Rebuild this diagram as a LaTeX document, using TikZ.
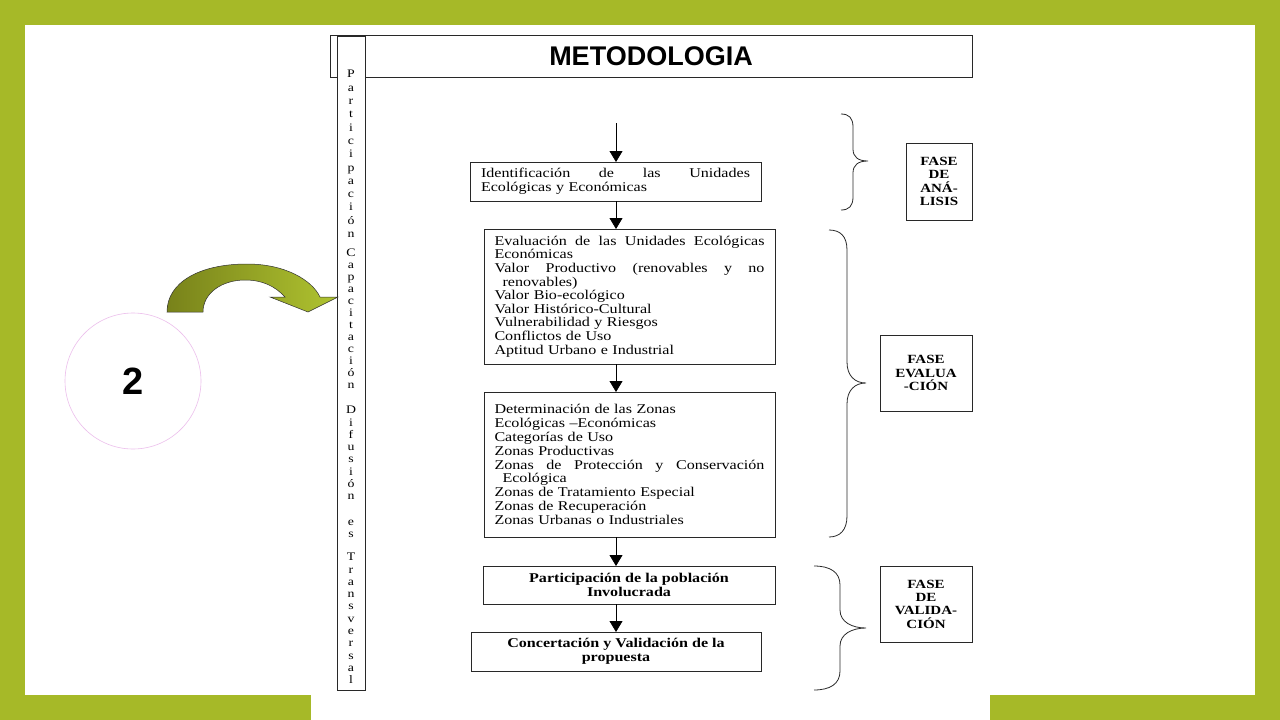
\documentclass[tikz,border=0pt]{standalone}
\usepackage{fontspec}
\setmainfont{Liberation Serif}
\newfontfamily\bodyf[FakeStretch=1.2]{Liberation Serif}
\newfontfamily\sansf{Liberation Sans}
\usetikzlibrary{arrows.meta}
\definecolor{bggreen}{RGB}{166,185,40}
\definecolor{olivedark}{RGB}{120,130,26}
\definecolor{olivelight}{RGB}{176,196,48}
\definecolor{circpink}{RGB}{236,190,236}
\definecolor{linegray}{RGB}{40,40,40}
\begin{document}
\begin{tikzpicture}[x=1pt,y=-1pt,
  box/.style={draw=linegray,line width=0.8pt,inner sep=0pt,outer sep=0pt},
  flowbox/.style={box,font=\bodyf\fontsize{13.4}{13.6}\selectfont,align=left,inner xsep=10.5pt,inner ysep=0pt,text width=270pt},
  boldbox/.style={box,font=\bodyf\bfseries\fontsize{13.4}{13.8}\selectfont,align=center},
  fasebox/.style={box,font=\bodyf\bfseries\fontsize{12.5}{13.3}\selectfont,align=center},
  colword/.style={font=\bodyf\fontsize{11.5}{12.3}\selectfont,align=center,inner sep=0pt},
  flow/.style={draw=black,line width=0.8pt,-{Triangle[length=11pt,width=13pt]}},
  brace/.style={draw=linegray,line width=0.8pt},
]
\useasboundingbox (0,0) rectangle (1280,720);
% background
\fill[bggreen] (0,0) rectangle (1280,720);
\fill[white] (25,25) rectangle (1255,695);
\fill[white] (311,690) rectangle (990,720);

% title and column
\node[box,minimum width=642pt,minimum height=42pt,font=\sansf\bfseries\fontsize{27}{30}\selectfont] (title) at (651,56) {METODOLOGIA};
\node[box,fill=white,minimum width=28pt,minimum height=654pt] (col) at (351,363) {};
\node[colword,font=\bodyf\fontsize{11.5}{13.3}\selectfont] (w1) at (351,154) {P\\a\\r\\t\\i\\c\\i\\p\\a\\c\\i\\ó\\n};
\node[colword,font=\bodyf\fontsize{11.5}{12}\selectfont] (w2) at (351,319) {C\\a\\p\\a\\c\\i\\t\\a\\c\\i\\ó\\n};
\node[colword] (w3) at (351,453) {D\\i\\f\\u\\s\\i\\ó\\n};
\node[colword,font=\bodyf\fontsize{11.5}{12}\selectfont] (w4) at (351,529) {e\\s};
\node[colword] (w5) at (351,618.5) {T\\r\\a\\n\\s\\v\\e\\r\\s\\a\\l};

% flow boxes
\node[flowbox,text width=269pt,inner xsep=11pt,minimum height=39pt] (b1) at (615.5,181.5)
  {Identificación\hfill de\hfill las\hfill Unidades\\Ecológicas y Económicas};
\node[flowbox,minimum height=135pt] (b2) at (629.5,296.5)
  {Evaluación\hfill de\hfill las\hfill Unidades\hfill Ecológicas\\
   Económicas\\
   Valor\hfill Productivo\hfill (renovables\hfill y\hfill no\\
   \hspace*{8pt}renovables)\\
   Valor Bio-ecológico\\
   Valor Histórico-Cultural\\
   Vulnerabilidad y Riesgos\\
   Conflictos de Uso\\
   Aptitud Urbano e Industrial};
\node[flowbox,font=\bodyf\fontsize{13.4}{13.9}\selectfont,minimum height=145pt] (b3) at (629.5,464.5)
  {Determinación de las Zonas\\
   Ecológicas –Económicas\\
   Categorías de Uso\\
   Zonas Productivas\\
   Zonas\hfill de\hfill Protección\hfill y\hfill Conservación\\
   \hspace*{8pt}Ecológica\\
   Zonas de Tratamiento Especial\\
   Zonas de Recuperación\\
   Zonas Urbanas o Industriales};
\node[boldbox,minimum width=292pt,minimum height=38pt] (b4) at (629,585)
  {Participación de la población\\Involucrada};
\node[boldbox,minimum width=290pt,minimum height=39pt] (b5) at (616,651.5)
  {Concertación y Validación de la\\propuesta};

% arrows
\coordinate (ax) at (616,0);
\coordinate (start) at (616,123);
\draw[flow] (start) -- (ax |- b1.north);
\draw[flow] (ax |- b1.south) -- (ax |- b2.north);
\draw[flow] (ax |- b2.south) -- (ax |- b3.north);
\draw[flow] (ax |- b3.south) -- (ax |- b4.north);
\draw[flow] (ax |- b4.south) -- (ax |- b5.north);

% braces
\draw[brace] (841,114) .. controls (849,114) and (853,118) .. (853,127) -- (853,149)
  .. controls (853,157) and (858,161) .. (868,161)
  .. controls (858,161) and (853,165) .. (853,173) -- (853,197)
  .. controls (853,206) and (849,210) .. (841,210);
\draw[brace] (829,230) .. controls (840,230) and (847,236) .. (847,250) -- (847,362)
  .. controls (847,376) and (855,383) .. (866,383)
  .. controls (855,383) and (847,390) .. (847,404) -- (847,516)
  .. controls (847,530) and (840,537) .. (829,537);
\draw[brace] (814,566) .. controls (830,566) and (840,572) .. (840,585) -- (840,610)
  .. controls (840,622) and (852,628) .. (866,628)
  .. controls (852,628) and (840,634) .. (840,646) -- (840,671)
  .. controls (840,684) and (830,690) .. (814,690);

% phase boxes
\node[fasebox,minimum width=66pt,minimum height=77pt] (fa) at (939,181.5) {FASE\\DE\\ANÁ-\\LISIS};
\node[fasebox,minimum width=92pt,minimum height=76pt] (fb) at (926,373) {FASE\\EVALUA\\-CIÓN};
\node[fasebox,minimum width=92pt,minimum height=76pt] (fc) at (926,604) {FASE\\DE\\VALIDA-\\CIÓN};

% circle with number
\node[draw=circpink,line width=0.6pt,circle,minimum size=136pt,inner sep=0pt,
  font=\sansf\bfseries\fontsize{38}{40}\selectfont] (num) at (133,381) {2};

% curved block arrow
\draw[draw=black!80,line width=0.5pt,left color=olivedark,right color=olivelight]
  (167,312) .. controls (167,282) and (200,264) .. (247,264)
  .. controls (285,264) and (312,280) .. (320,297)
  -- (338,297) -- (308,312) -- (270,297) -- (285,297)
  .. controls (275,286) and (262,280) .. (245,280)
  .. controls (222,280) and (203,293) .. (203,312) -- cycle;
\end{tikzpicture}
\end{document}
